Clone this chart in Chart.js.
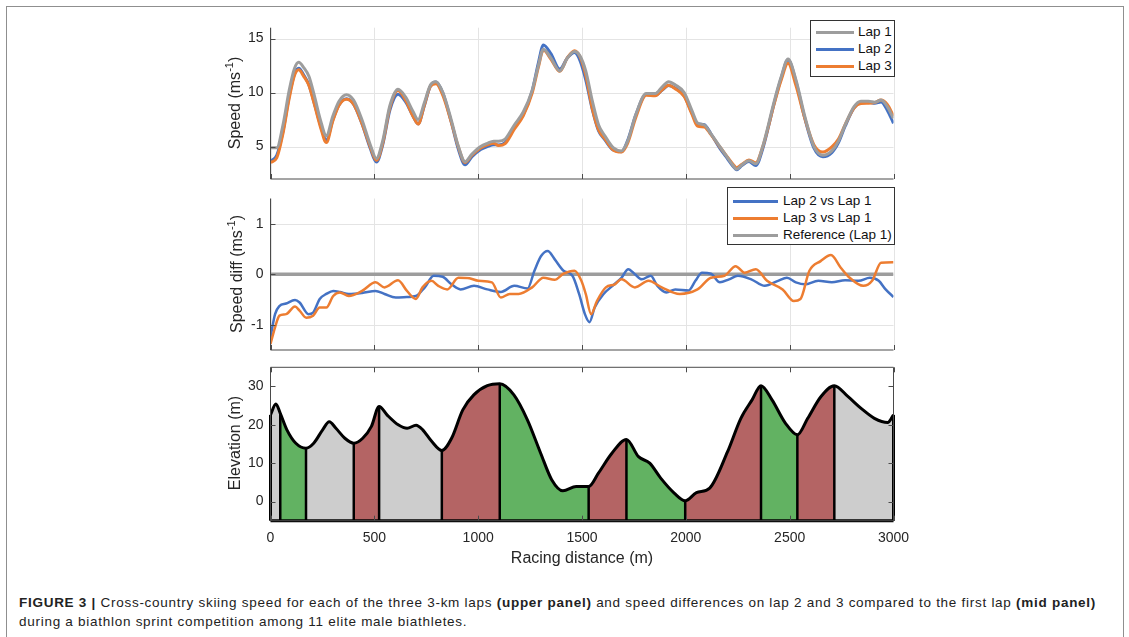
<!DOCTYPE html>
<html><head><meta charset="utf-8">
<script src="https://cdn.jsdelivr.net/npm/chart.js@4.4.1/dist/chart.umd.min.js"></script>
<style>
html,body{margin:0;padding:0;background:#fff;}
body{width:1129px;height:637px;position:relative;overflow:hidden;font-family:'Liberation Sans',Arial,sans-serif;color:#262626;}
#frame{position:absolute;left:6px;top:6px;width:1118px;height:660px;border:1.5px solid #8f8f8f;box-sizing:border-box;}
canvas{position:absolute;}
.ytitle{position:absolute;font-size:16px;color:#262626;white-space:nowrap;transform:translate(-50%,-50%) rotate(-90deg);}
.ytitle sup{font-size:11px;position:relative;top:-1px;}
.xtitle{position:absolute;font-size:16px;color:#262626;white-space:nowrap;transform:translate(-50%,-50%);}
.legend{position:absolute;background:#fff;border:1px solid #333;box-sizing:border-box;font-size:13.5px;color:#111;}
.legend .row{position:absolute;left:0;right:0;height:16px;}
.legend .ln{position:absolute;height:3px;}
.legend .tx{position:absolute;white-space:nowrap;line-height:16px;}
#caption{position:absolute;left:19px;top:594px;font-size:13.5px;line-height:18.5px;color:#222;white-space:nowrap;}
#caption b{font-weight:bold;}
</style></head>
<body>
<div id="frame"></div>
<canvas id="cSpeed" width="730" height="180" style="left:180px;top:10px"></canvas>
<canvas id="cDiff" width="730" height="170" style="left:180px;top:190px"></canvas>
<canvas id="cElev" width="730" height="210" style="left:180px;top:360px"></canvas>
<div class="ytitle" style="left:234px;top:103px">Speed (ms<sup>-1</sup>)</div>
<div class="ytitle" style="left:236px;top:274px">Speed diff (ms<sup>-1</sup>)</div>
<div class="ytitle" style="left:235px;top:443px">Elevation (m)</div>
<div class="xtitle" style="left:582px;top:558px">Racing distance (m)</div>
<div id="legSpeed" class="legend" style="left:810px;top:20px;width:85px;height:57px"></div>
<div id="legDiff" class="legend" style="left:727px;top:187px;width:168px;height:58px"></div>
<div id="caption"><span id="capLine1"><b>FIGURE 3 |</b> Cross-country skiing speed for each of the three 3-km laps <b>(upper panel)</b> and speed differences on lap 2 and 3 compared to the first lap <b>(mid panel)</b></span><br>during a biathlon sprint competition among 11 elite male biathletes.</div>
<script>
// ---------- DATA ----------
const xTicks = [0, 500, 1000, 1500, 2000, 2500, 3000];
const speedTicks = [5, 10, 15];
const diffTicks = [-1, 0, 1];
const elevTicks = [0, 10, 20, 30];

const speedDist = [0,30,60,90,115,136,160,185,210,240,269,300,330,366,400,440,480,510,540,575,614,650,685,711,740,770,797,830,870,905,937,970,1012,1044,1075,1098,1130,1174,1217,1260,1290,1314,1350,1393,1430,1464,1490,1518,1550,1580,1610,1650,1690,1720,1760,1809,1852,1885,1917,1950,1992,2030,2056,2089,2120,2164,2200,2229,2244,2270,2304,2337,2370,2400,2423,2460,2492,2530,2573,2617,2660,2703,2735,2767,2810,2843,2880,2910,2940,2970,3000];
const lap1 = [4.9,4.9,7.0,10.2,12.2,12.8,12.3,11.5,9.8,7.5,6.0,7.8,9.2,9.8,9.3,7.5,5.2,3.9,5.5,8.8,10.3,9.6,8.3,7.5,9.0,10.7,11.0,10.0,7.5,5.0,3.6,4.3,5.0,5.3,5.5,5.5,5.7,7.0,8.2,10.2,12.5,14.0,13.2,12.0,13.2,13.8,13.4,12.0,9.2,7.0,6.0,4.9,4.6,5.5,8.0,9.9,9.9,10.5,11.0,10.7,10.0,8.3,7.2,7.0,6.2,5.0,4.0,3.2,2.9,3.3,3.7,3.4,5.0,7.2,9.0,11.5,13.1,11.2,7.8,5.0,4.2,4.6,5.5,7.0,8.7,9.2,9.2,9.1,9.3,8.7,7.6];
const lap2 = [3.65,4.18,6.4,9.65,11.69,12.25,11.62,10.71,9.08,7.02,5.61,7.47,8.85,9.42,8.92,7.13,4.85,3.57,5.13,8.38,9.84,9.15,7.86,7.1,8.73,10.6,10.97,9.95,7.3,4.72,3.31,4.06,4.74,5.0,5.17,5.15,5.38,6.77,7.94,10.15,12.75,14.4,13.6,12.17,13.22,13.7,12.98,11.18,8.4,6.45,5.63,4.68,4.53,5.59,7.98,9.83,9.75,10.2,10.66,10.4,9.68,8.08,7.12,7.03,6.21,4.84,3.89,3.13,2.86,3.25,3.61,3.25,4.78,7.0,8.84,11.39,13.03,11.04,7.6,4.85,4.06,4.44,5.36,6.88,8.57,9.08,9.12,9.0,9.13,8.37,7.15];
const lap3 = [3.52,3.95,6.2,9.45,11.55,12.1,11.5,10.65,8.99,6.84,5.38,7.36,8.83,9.39,8.92,7.17,5.0,3.73,5.27,8.6,10.18,9.3,7.86,7.08,8.78,10.57,10.82,9.73,7.3,4.93,3.53,4.21,4.87,5.15,5.3,5.1,5.28,6.61,7.85,9.94,12.35,13.93,13.1,11.96,13.23,13.87,13.32,11.61,8.48,6.53,5.72,4.69,4.5,5.32,7.75,9.74,9.7,10.24,10.68,10.33,9.63,7.97,6.9,6.82,6.13,4.96,4.05,3.33,3.05,3.36,3.76,3.5,4.96,7.03,8.78,11.21,12.7,10.66,7.6,5.15,4.49,4.97,5.7,7.03,8.57,8.98,9.0,9.07,9.3,8.9,7.84];

const diffDist2 = [0,22,43,75,118,140,183,205,237,269,302,334,377,441,506,549,603,657,700,743,786,829,872,915,980,1044,1109,1174,1238,1271,1303,1335,1368,1411,1454,1486,1514,1536,1561,1604,1647,1690,1723,1755,1788,1831,1863,1906,1949,2014,2046,2078,2121,2164,2208,2251,2315,2380,2444,2487,2530,2573,2638,2703,2767,2832,2886,2929,2962,3000];
const diff2 = [-1.25,-0.79,-0.63,-0.58,-0.51,-0.56,-0.79,-0.76,-0.49,-0.39,-0.33,-0.35,-0.39,-0.37,-0.33,-0.39,-0.46,-0.45,-0.43,-0.26,-0.03,-0.05,-0.2,-0.3,-0.23,-0.3,-0.35,-0.23,-0.28,0.07,0.36,0.46,0.3,0.07,-0.03,-0.39,-0.79,-0.95,-0.66,-0.39,-0.23,-0.07,0.1,0,-0.1,-0.03,-0.23,-0.36,-0.3,-0.32,-0.13,0.03,0.01,-0.16,-0.1,-0.03,-0.1,-0.23,-0.13,-0.07,-0.16,-0.2,-0.13,-0.16,-0.12,-0.13,-0.07,-0.13,-0.3,-0.45];
const diffDist3 = [0,22,43,75,118,140,172,205,237,269,302,334,377,441,506,549,614,657,700,732,775,808,851,905,958,1001,1066,1109,1152,1195,1260,1314,1368,1411,1464,1497,1518,1544,1572,1615,1658,1690,1755,1820,1884,1970,2056,2121,2186,2240,2283,2337,2391,2466,2520,2552,2595,2649,2699,2746,2789,2854,2897,2940,3000];
const diff3 = [-1.38,-1.05,-0.82,-0.79,-0.64,-0.72,-0.86,-0.82,-0.66,-0.66,-0.43,-0.36,-0.43,-0.33,-0.16,-0.26,-0.12,-0.33,-0.49,-0.26,-0.13,-0.23,-0.3,-0.07,-0.08,-0.13,-0.16,-0.46,-0.39,-0.39,-0.26,-0.07,-0.11,0.01,0.07,-0.13,-0.39,-0.79,-0.53,-0.26,-0.2,-0.1,-0.26,-0.13,-0.26,-0.39,-0.3,-0.07,-0.03,0.16,0.03,0.1,-0.13,-0.3,-0.53,-0.49,0.07,0.26,0.38,0.13,-0.07,-0.23,-0.13,0.23,0.24];
const refDist = [0, 3000];
const refDiff = [0, 0];

const elevDist = [0,26,47,79,122,171,208,251,283,315,358,401,444,486,523,561,615,658,701,733,776,825,872,926,979,1044,1104,1172,1237,1301,1354,1408,1472,1532,1579,1644,1714,1772,1826,1879,1944,1997,2051,2115,2201,2265,2319,2362,2415,2480,2537,2587,2651,2715,2780,2844,2908,2972,3000];
const elevation = [22.6,25.4,23.0,18.7,15.2,13.9,15.2,18.7,20.8,19.1,16.5,15.2,16.5,19.6,24.8,22.6,20.0,19.1,19.9,18.7,15.7,13.3,16.5,23.9,27.8,30.2,30.7,27.8,21.3,12.6,5.7,2.8,3.9,3.9,7.4,12.6,16.2,11.7,10.0,6.1,2.2,0.2,2.3,3.5,13.0,21.7,26.5,30.2,26.5,20.4,17.4,21.7,27.4,30.2,27.4,24.3,21.7,20.6,22.6];
const segBounds = [0,47,171,401,523,825,1104,1532,1714,1997,2362,2537,2715,3000];
const segTypes = ['flat','down','flat','up','flat','up','down','up','down','up','down','up','flat'];

// ---------- STYLE ----------
const C_LAP1 = '#9d9d9d', C_LAP2 = '#4472c4', C_LAP3 = '#ed7d31', C_REF = '#9d9d9d';
const SEG_COL = {flat:'#cdcdcd', down:'#62b262', up:'#b46464'};
const FONT = "'Liberation Sans', Arial, sans-serif";
Chart.defaults.font.family = FONT;
Chart.defaults.color = '#262626';

const pts = (xs, ys) => xs.map((x, i) => ({x, y: ys[i]}));

const axesPlugin = {
  id: 'matlabAxes',
  beforeDatasetsDraw(chart, args, o) {
    if (!o.grid) return;
    const {ctx, chartArea: a, scales: {x, y}} = chart;
    ctx.save();
    ctx.strokeStyle = '#e4e4e4'; ctx.lineWidth = 1;
    ctx.beginPath();
    o.xTicks.forEach(v => { const p = Math.round(x.getPixelForValue(v)) + 0.5; ctx.moveTo(p, a.top); ctx.lineTo(p, a.bottom); });
    o.yTicks.forEach(v => { const p = Math.round(y.getPixelForValue(v)) + 0.5; ctx.moveTo(a.left, p); ctx.lineTo(a.right, p); });
    ctx.stroke(); ctx.restore();
  },
  afterDatasetsDraw(chart, args, o) {
    const {ctx, chartArea: a, scales: {x, y}} = chart;
    const L = a.left, R = a.right, T = a.top, B = a.bottom, tl = 5;
    ctx.save();
    ctx.strokeStyle = '#4a4a4a'; ctx.lineWidth = 1;
    ctx.beginPath();
    ctx.moveTo(L, T); ctx.lineTo(L, B); ctx.lineTo(R, B);
    if (o.box) { ctx.moveTo(L, T); ctx.lineTo(R, T); ctx.lineTo(R, B); }
    o.xTicks.forEach(v => { const p = Math.round(x.getPixelForValue(v)) + 0.5;
      ctx.moveTo(p, B); ctx.lineTo(p, B - tl);
      if (o.box) { ctx.moveTo(p, T); ctx.lineTo(p, T + tl); } });
    o.yTicks.forEach(v => { const p = Math.round(y.getPixelForValue(v)) + 0.5;
      ctx.moveTo(L, p); ctx.lineTo(L + tl, p);
      if (o.box) { ctx.moveTo(R, p); ctx.lineTo(R - tl, p); } });
    ctx.stroke(); ctx.restore();
  }
};

function xScale(showLabels, h) {
  return {
    type: 'linear', min: 0, max: 3000,
    grid: {display: false, drawTicks: false}, border: {display: false},
    afterBuildTicks: s => { s.ticks = xTicks.map(v => ({value: v})); },
    afterFit: s => { s.height = h; s.paddingRight = 0; s.paddingLeft = 0; },
    ticks: {display: showLabels, padding: 9, font: {size: 14}, color: '#262626', maxRotation: 0, autoSkip: false,
      callback: v => String(v)}
  };
}
function yScale(min, max, ticks) {
  return {
    type: 'linear', min, max,
    grid: {display: false, drawTicks: false}, border: {display: false},
    afterBuildTicks: s => { s.ticks = ticks.map(v => ({value: v})); },
    afterFit: s => { s.width = 90.5; s.paddingTop = 0; s.paddingBottom = 0; },
    ticks: {padding: 7, font: {size: 14}, color: '#262626', callback: v => String(v)}
  };
}
const lineDs = (label, xs, ys, color, w, order) => ({
  label, data: pts(xs, ys), borderColor: color, backgroundColor: color, borderWidth: w,
  pointRadius: 0, fill: false, cubicInterpolationMode: 'monotone', order
});
const baseOpts = (pad, xs, ys, plug) => ({
  responsive: false, animation: false, devicePixelRatio: 1,
  layout: {padding: pad},
  plugins: {legend: {display: false}, tooltip: {enabled: false}, matlabAxes: plug},
  scales: {x: xs, y: ys}
});

// ---------- SPEED PANEL ----------
const speedChart = new Chart(document.getElementById('cSpeed'), {
  type: 'line',
  data: {datasets: [
    lineDs('Lap 1', speedDist, lap1, C_LAP1, 3, 0),
    lineDs('Lap 2', speedDist, lap2, C_LAP2, 3, 2),
    lineDs('Lap 3', speedDist, lap3, C_LAP3, 3, 1)
  ]},
  options: baseOpts({top: 17.7, bottom: 11, right: 16.5, left: 0}, xScale(false, 0), yScale(2, 16, speedTicks),
    {grid: true, box: false, xTicks, yTicks: speedTicks}),
  plugins: [axesPlugin]
});

// ---------- DIFF PANEL ----------
const diffChart = new Chart(document.getElementById('cDiff'), {
  type: 'line',
  data: {datasets: [
    lineDs('Lap 2 vs Lap 1', diffDist2, diff2, C_LAP2, 2.5, 1),
    lineDs('Lap 3 vs Lap 1', diffDist3, diff3, C_LAP3, 2.5, 0),
    Object.assign(lineDs('Reference (Lap 1)', refDist, refDiff, C_REF, 3.5, 2), {cubicInterpolationMode: 'default', tension: 0})
  ]},
  options: baseOpts({top: 8.5, bottom: 10, right: 16.5, left: 0}, xScale(false, 0), yScale(-1.5, 1.5, diffTicks),
    {grid: true, box: false, xTicks, yTicks: diffTicks}),
  plugins: [axesPlugin]
});

// ---------- ELEVATION PANEL ----------
const ELEV_MIN = -5, ELEV_MAX = 35;
function segTypeAt(d) {
  for (let i = 0; i < segBounds.length - 1; i++) if (d >= segBounds[i] && d < segBounds[i + 1]) return segTypes[i];
  return segTypes[segTypes.length - 1];
}
const elevDatasets = [];
elevDatasets.push({
  label: 'outline', data: pts(elevDist, elevation), borderColor: '#000', borderWidth: 3, pointRadius: 0,
  fill: false, cubicInterpolationMode: 'monotone', order: 0
});
segBounds.forEach(b => {
  const top = elevation[elevDist.indexOf(b)];
  elevDatasets.push({
    label: 'b' + b, data: [{x: b, y: ELEV_MIN}, {x: b, y: top}], borderColor: '#000', borderWidth: (b === 0 || b === 3000) ? 3 : 2.5,
    pointRadius: 0, fill: false, tension: 0, clip: false, order: 1
  });
});
elevDatasets.push({
  label: 'base', data: [{x: 0, y: ELEV_MIN}, {x: 3000, y: ELEV_MIN}], borderColor: '#000', borderWidth: 3,
  pointRadius: 0, fill: false, tension: 0, clip: false, order: 1
});
elevDatasets.push({
  label: 'terrain', data: pts(elevDist, elevation), borderWidth: 0, borderColor: 'rgba(0,0,0,0)', pointRadius: 0,
  backgroundColor: SEG_COL.flat, fill: 'start', cubicInterpolationMode: 'monotone', order: 5,
  segment: {backgroundColor: c => SEG_COL[segTypeAt(c.p0.parsed.x)]}
});
const elevChart = new Chart(document.getElementById('cElev'), {
  type: 'line',
  data: {datasets: elevDatasets},
  options: baseOpts({top: 7.3, bottom: 0, right: 16.5, left: 0}, xScale(true, 49.3), yScale(ELEV_MIN, ELEV_MAX, elevTicks),
    {grid: false, box: true, xTicks, yTicks: elevTicks}),
  plugins: [axesPlugin]
});

// ---------- HTML LEGENDS (from dataset labels / colours) ----------
function buildLegend(el, chart, rows, lineX0, lineX1, textX) {
  chart.data.datasets.forEach((ds, i) => {
    const row = document.createElement('div');
    row.className = 'row'; row.style.top = rows[i] + 'px';
    const ln = document.createElement('div');
    ln.className = 'ln'; ln.style.left = lineX0 + 'px'; ln.style.width = (lineX1 - lineX0) + 'px';
    ln.style.top = '6.5px'; ln.style.background = ds.borderColor;
    const tx = document.createElement('div');
    tx.className = 'tx'; tx.style.left = textX + 'px'; tx.textContent = ds.label;
    row.appendChild(ln); row.appendChild(tx); el.appendChild(row);
  });
}
buildLegend(document.getElementById('legSpeed'), speedChart, [3, 20, 37], 5, 43, 47);
buildLegend(document.getElementById('legDiff'), diffChart, [5, 22, 39], 5, 50, 55);

// caption: stretch the first line to the reference width
(function () {
  const cap = document.getElementById('caption');
  const l1 = document.getElementById('capLine1');
  const w = l1.getBoundingClientRect().width;
  const n = l1.textContent.length;
  cap.style.letterSpacing = ((1077 - w) / n).toFixed(3) + 'px';
})();
</script>
</body></html>
